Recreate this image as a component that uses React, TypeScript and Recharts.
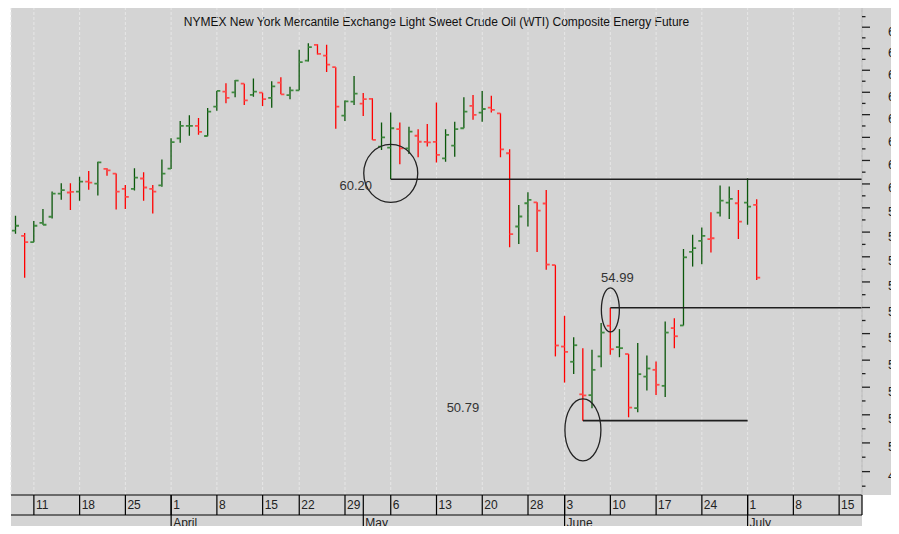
import React from 'react'
import { ComposedChart, Bar, XAxis, YAxis, CartesianGrid, ReferenceLine, ReferenceDot } from 'recharts'

// trading days shown on the axis (the last ones are still empty)
const dates = [
	'3/7', '3/8', '3/11', '3/12', '3/13', '3/14', '3/15', '3/18', '3/19', '3/20', '3/21', '3/22',
	'3/25', '3/26', '3/27', '3/28', '3/29', '4/1', '4/2', '4/3', '4/4', '4/5', '4/8', '4/9', '4/10',
	'4/11', '4/12', '4/15', '4/16', '4/17', '4/18', '4/22', '4/23', '4/24', '4/25', '4/26', '4/29',
	'4/30', '5/1', '5/2', '5/3', '5/6', '5/7', '5/8', '5/9', '5/10', '5/13', '5/14', '5/15', '5/16',
	'5/17', '5/20', '5/21', '5/22', '5/23', '5/24', '5/28', '5/29', '5/30', '5/31', '6/3', '6/4',
	'6/5', '6/6', '6/7', '6/10', '6/11', '6/12', '6/13', '6/14', '6/17', '6/18', '6/19', '6/20',
	'6/21', '6/24', '6/25', '6/26', '6/27', '6/28', '7/1', '7/2', '7/3', '7/4', '7/5', '7/8', '7/9',
	'7/10', '7/11', '7/12', '7/15', '7/16', '7/17',
]

const opens = [
	58.06, 57.85, 57.59, 58.38, 58.63, 59.59, 59.64, 59.68, 60.10, 60.01, 60.64, 60.44, 59.79, 59.79,
	60.23, 59.79, 59.94, 60.65, 61.96, 62.50, 62.50, 62.06, 63.36, 64.03, 64.0, 64.39, 63.88, 63.98,
	63.75, 64.44, 63.87, 64.09, 65.44, 66.17, 65.67, 65.14, 62.96, 63.58, 63.49, 63.70, 61.60, 61.55,
	62.36, 61.52, 62.07, 61.80, 61.80, 61.09, 61.64, 62.40, 63.39, 63.09, 63.31, 63.06, 61.31, 58.23,
	59.19, 59.23, 59.18, 56.67, 53.51, 52.94, 51.74, 51.71, 53.14, 54.30, 53.49, 53.23, 51.24, 52.39,
	52.64, 52.05, 54.21, 54.31, 57.20, 57.64, 57.71, 58.80, 59.22, 59.19, 59.22, 59.12,
]
const highs = [
	58.67, 57.96, 58.46, 58.95, 59.68, 60.03, 60.03, 60.31, 60.55, 60.94, 60.67, 60.44, 59.96, 60.67,
	60.50, 59.96, 61.04, 61.96, 62.72, 62.97, 62.85, 63.30, 64.06, 64.41, 64.56, 64.39, 64.62, 63.98,
	64.50, 64.68, 64.25, 65.94, 66.25, 66.20, 66.18, 65.14, 63.63, 64.74, 63.97, 63.73, 62.65, 63.09,
	62.65, 62.47, 62.36, 62.59, 63.54, 62.36, 62.69, 63.78, 63.88, 64.06, 63.84, 63.06, 61.48, 59.12,
	59.65, 59.23, 59.75, 56.67, 54.68, 53.86, 53.45, 53.39, 54.40, 54.99, 54.17, 53.23, 53.64, 53.17,
	52.95, 54.46, 54.59, 57.31, 57.89, 58.19, 58.82, 59.93, 59.89, 59.75, 60.24, 59.36,
]
const lows = [
	57.93, 56.17, 57.59, 58.30, 58.56, 59.34, 58.91, 59.29, 59.76, 59.51, 60.35, 58.93, 58.95, 59.72,
	59.29, 58.76, 59.88, 60.63, 61.77, 62.07, 62.11, 62.05, 63.17, 63.51, 63.78, 63.43, 63.80, 63.39,
	63.31, 63.91, 63.69, 64.09, 65.40, 65.72, 64.92, 62.38, 62.72, 63.43, 62.94, 61.89, 61.45, 60.20,
	60.84, 61.28, 61.14, 61.60, 60.91, 60.95, 61.16, 62.40, 62.77, 62.69, 63.09, 61.14, 57.38, 57.52,
	58.23, 57.19, 56.48, 53.14, 52.17, 52.49, 50.79, 51.24, 52.74, 53.20, 53.11, 50.91, 51.09, 51.88,
	51.72, 51.64, 53.45, 54.31, 56.61, 56.70, 57.17, 58.64, 58.54, 57.72, 58.30, 56.08,
]
const closes = [
	58.26, 57.59, 58.26, 58.30, 59.59, 59.74, 59.67, 60.10, 60.06, 60.92, 60.58, 59.68, 59.46, 60.27,
	59.85, 59.68, 60.44, 61.79, 62.50, 62.50, 62.24, 63.13, 64.06, 63.75, 64.53, 63.64, 64.03, 63.69,
	64.27, 63.91, 64.09, 65.37, 66.07, 65.75, 65.26, 63.36, 63.59, 63.94, 63.69, 61.89, 62.00, 62.40,
	61.52, 62.25, 61.81, 61.78, 61.24, 62.11, 62.36, 63.13, 62.99, 63.25, 63.21, 61.48, 57.92, 58.64,
	59.33, 58.88, 56.69, 53.55, 53.31, 53.56, 51.70, 52.64, 54.04, 53.41, 53.45, 51.26, 52.48, 52.69,
	52.09, 54.04, 53.90, 56.98, 57.35, 57.85, 57.75, 59.30, 59.37, 58.43, 59.05, 56.17,
]

const weekStarts = ['3/11', '3/18', '3/25', '4/1', '4/8', '4/15', '4/22', '4/29', '5/6', '5/13', '5/20', '5/28', '6/3', '6/10', '6/17', '6/24', '7/1', '7/8', '7/15']
const monthStarts = ['3/7', '4/1', '5/1', '6/3', '7/1']
const monthNames = ['March', 'April', 'May', 'June', 'July']
const priceTicks = [48.5, 49, 49.5, 50, 50.5, 51, 51.5, 52, 52.5, 53, 53.5, 54, 54.5, 55, 55.5, 56, 56.5, 57, 57.5, 58, 58.5, 59, 59.5, 60, 60.5, 61, 61.5, 62, 62.5, 63, 63.5, 64, 64.5, 65, 65.5, 66, 66.5, 67, 67.5]

// drawn levels: start day, end day (null = right edge), price
const levelStarts = ['5/6', '6/10', '6/5']
const levelEnds = [null, null, '7/1']
const levelValues = [60.2, 54.99, 50.79]
const levelLabels = ['60.20', '54.99', '50.79']

const TITLE = 'NYMEX New York Mercantile Exchange Light Sweet Crude Oil (WTI) Composite Energy Future'
const BG = '#d4d4d4'
const FONT = '"Liberation Sans", Arial, sans-serif'
const X_MIN = -0.5
const X_MAX = dates.length - 0.5

const idx = (d: string) => dates.indexOf(d)

const rows = opens.map((o, i) => ({
	i,
	range: [lows[i], highs[i]],
	open: o,
	high: highs[i],
	low: lows[i],
	close: closes[i],
	up: i === 0 ? closes[i] >= o : closes[i] >= closes[i - 1],
}))

function OhlcBar(props: any) {
	const { x, y, width, height, payload } = props
	if (!payload || !Number.isFinite(y)) return null
	const cx = x + width / 2
	const top = Math.min(y, y + height)
	const bottom = Math.max(y, y + height)
	const span = Math.log(payload.high) - Math.log(payload.low)
	const at = (v: number) => (span > 0 ? top + ((bottom - top) * (Math.log(payload.high) - Math.log(v))) / span : top)
	const main = payload.up ? '#0a560a' : '#ff0000'
	const tick = payload.up ? '#3f8a3f' : '#ff4a4a'
	return (
		<g>
			<line x1={cx} x2={cx} y1={top} y2={bottom} stroke={main} strokeWidth={1.3} />
			<line x1={cx - 3.5} x2={cx} y1={at(payload.open)} y2={at(payload.open)} stroke={tick} strokeWidth={1.8} />
			<line x1={cx} x2={cx + 3.5} y1={at(payload.close)} y2={at(payload.close)} stroke={tick} strokeWidth={1.8} />
		</g>
	)
}

function PriceTick({ x, y, payload }: any) {
	const v = payload.value
	const major = Number.isInteger(v)
	return (
		<g>
			<line x1={x} x2={x + (major ? 8 : 3.5)} y1={y} y2={y} stroke="#222" strokeWidth={1.3} />
			{major && (
				<text x={x + 26} y={y + 8.5} fontSize={12.5} fontFamily={FONT} fill="#222" textAnchor="start">
					{String(v)}
				</text>
			)}
		</g>
	)
}

function DayTick({ x, y, payload }: any) {
	const d = dates[payload.value]
	return (
		<g>
			<line x1={x} x2={x} y1={y} y2={y + 20} stroke="#000" strokeWidth={1.2} />
			{d && Number.isInteger(payload.value) && (
				<text x={x + 2} y={y + 14} fontSize={12} fontFamily={FONT} fill="#222" textAnchor="start">
					{d.split('/')[1]}
				</text>
			)}
		</g>
	)
}

function MonthTick({ x, y, payload }: any) {
	const k = monthStarts.indexOf(dates[payload.value])
	if (k === 0) {
		return (
			<text x={x - 12} y={y + 12} fontSize={12} fontFamily={FONT} fill="#222" textAnchor="end">
				{monthNames[k]}
			</text>
		)
	}
	return (
		<g>
			<line x1={x} x2={x} y1={y - 20} y2={y + 19} stroke="#000" strokeWidth={1.2} />
			<text x={x + 2} y={y + 12} fontSize={12} fontFamily={FONT} fill="#222" textAnchor="start">
				{monthNames[k]}
			</text>
		</g>
	)
}

const ringShape = (rx: number, ry: number) => (p: any) => (
	<ellipse cx={p.cx} cy={p.cy} rx={rx} ry={ry} fill="none" stroke="#222" strokeWidth={1.3} />
)
const labelShape = (text: string, dx: number, dy: number) => (p: any) => (
	<text x={p.cx + dx} y={p.cy + dy} fontSize={13} fontFamily={FONT} fill="#333" textAnchor="middle">
		{text}
	</text>
)

export default function App() {
	return (
		<div style={{ position: 'relative', margin: -8, width: 899, height: 534, overflow: 'hidden', background: '#fff' }}>
			<div style={{ position: 'absolute', left: 11, top: 7, width: 888, height: 488, background: BG }} />
			<div style={{ position: 'absolute', left: 11, top: 495, width: 851, height: 39, background: BG }} />
			<div
				style={{
					position: 'absolute',
					left: 11,
					top: 15,
					width: 851,
					textAlign: 'center',
					fontFamily: FONT,
					fontSize: 12,
					lineHeight: '14px',
					color: '#111',
				}}
			>
				{TITLE}
			</div>
			<div style={{ position: 'absolute', left: 0, top: 0 }}>
				<ComposedChart width={899} height={534} data={rows} margin={{ top: 7, right: 0, bottom: 0, left: 11 }}>
					<CartesianGrid xAxisId="day" horizontal={false} stroke="#e6e6e6" strokeDasharray="3 2" />
					<XAxis
						xAxisId="day"
						dataKey="i"
						type="number"
						domain={[X_MIN, X_MAX]}
						ticks={[...weekStarts.map(idx), X_MAX]}
						interval={0}
						height={20}
						tickSize={0}
						tickMargin={0}
						tickLine={false}
						axisLine={{ stroke: '#000', strokeWidth: 1.2 }}
						tick={<DayTick />}
					/>
					<XAxis
						xAxisId="month"
						dataKey="i"
						type="number"
						domain={[X_MIN, X_MAX]}
						ticks={monthStarts.map(idx)}
						interval={0}
						height={19}
						tickSize={0}
						tickMargin={0}
						tickLine={false}
						axisLine={{ stroke: '#000', strokeWidth: 1.2 }}
						tick={<MonthTick />}
					/>
					<YAxis
						orientation="right"
						scale="log"
						domain={[48.2, 67.96]}
						allowDataOverflow
						ticks={priceTicks}
						interval={0}
						width={37}
						tickSize={0}
						tickMargin={0}
						tickLine={false}
						axisLine={{ stroke: '#b4b4b4' }}
						tick={<PriceTick />}
					/>
					<Bar xAxisId="day" dataKey="range" barSize={7} shape={<OhlcBar />} isAnimationActive={false} />
					{levelValues.map((v, k) => (
						<ReferenceLine
							key={'l' + k}
							xAxisId="day"
							segment={[
								{ x: idx(levelStarts[k]), y: v },
								{ x: levelEnds[k] ? idx(levelEnds[k] as string) : X_MAX, y: v },
							]}
							stroke="#1e1e1e"
							strokeWidth={1.6}
							ifOverflow="visible"
						/>
					))}
					<ReferenceDot xAxisId="day" x={idx('5/6')} y={60.45} r={0} ifOverflow="visible" shape={ringShape(27, 29)} />
					<ReferenceDot xAxisId="day" x={idx('6/10')} y={54.91} r={0} ifOverflow="visible" shape={ringShape(9, 22)} />
					<ReferenceDot xAxisId="day" x={idx('6/5')} y={50.46} r={0} ifOverflow="visible" shape={ringShape(18, 31)} />
					<ReferenceDot xAxisId="day" x={idx(levelStarts[0])} y={levelValues[0]} r={0} ifOverflow="visible" shape={labelShape(levelLabels[0], -35, 11)} />
					<ReferenceDot xAxisId="day" x={idx(levelStarts[1])} y={levelValues[1]} r={0} ifOverflow="visible" shape={labelShape(levelLabels[1], 7, -26)} />
					<ReferenceDot xAxisId="day" x={idx(levelStarts[2])} y={levelValues[2]} r={0} ifOverflow="visible" shape={labelShape(levelLabels[2], -120, -9)} />
				</ComposedChart>
			</div>
		</div>
	)
}
